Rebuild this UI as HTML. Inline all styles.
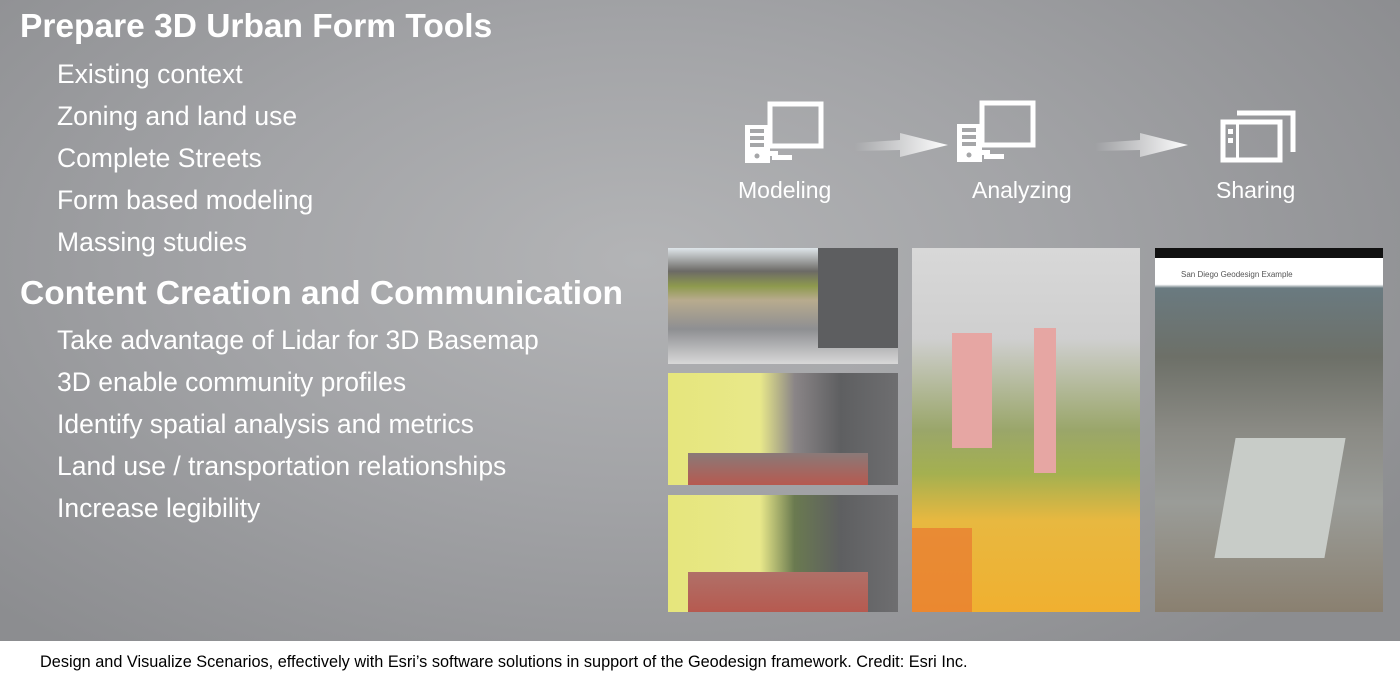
<!DOCTYPE html>
<html><head><meta charset="utf-8"><style>
*{margin:0;padding:0;box-sizing:border-box}
body{width:1400px;height:687px;overflow:hidden;font-family:"Liberation Sans",Arial,sans-serif;background:#fff;position:relative}
#bg{position:absolute;left:0;top:0;width:1400px;height:641px;background:radial-gradient(ellipse 900px 500px at 640px 260px,#b3b4b6 0%,#a3a4a7 45%,#8c8d90 100%)}
.t{position:absolute;color:#fff;white-space:nowrap}
.h{font-weight:bold;font-size:33.5px;left:20px}
.i{font-size:26.5px;left:57px}
.lab{font-size:23px}
.img{position:absolute;overflow:hidden}
#cap{position:absolute;left:0;top:641px;width:1400px;height:46px;background:#fff;font-size:16.3px;color:#000;padding:12px 0 0 40px}
</style></head><body>
<div id="bg"></div>
<div class="t h" style="top:8px">Prepare 3D Urban Form Tools</div>
<div class="t i" style="top:59px">Existing context</div>
<div class="t i" style="top:101px">Zoning and land use</div>
<div class="t i" style="top:143px">Complete Streets</div>
<div class="t i" style="top:185px">Form based modeling</div>
<div class="t i" style="top:227px">Massing studies</div>
<div class="t h" style="top:275px">Content Creation and Communication</div>
<div class="t i" style="top:325px">Take advantage of Lidar for 3D Basemap</div>
<div class="t i" style="top:367px">3D enable community profiles</div>
<div class="t i" style="top:409px">Identify spatial analysis and metrics</div>
<div class="t i" style="top:451px">Land use / transportation relationships</div>
<div class="t i" style="top:493px">Increase legibility</div>

<svg style="position:absolute;left:0;top:0" width="1400" height="641">
<defs><linearGradient id="ar" x1="0" x2="1"><stop offset="0" stop-color="#fff" stop-opacity="0"/><stop offset="1" stop-color="#fff"/></linearGradient></defs>
<g fill="none" stroke="#fff" stroke-width="5">
<rect x="770" y="104" width="51" height="42"/><rect x="982" y="103" width="51" height="42"/>
</g>
<g fill="#fff">
<rect x="745" y="125" width="25" height="38"/><rect x="770" y="151" width="8" height="5"/><rect x="772" y="155" width="20" height="5"/>
<rect x="957" y="124" width="25" height="38"/><rect x="982" y="150" width="8" height="5"/><rect x="984" y="154" width="20" height="5"/>
</g>
<g fill="#a5a6a8"><rect x="750" y="129" width="14" height="4"/><rect x="750" y="136" width="14" height="4"/><rect x="750" y="143" width="14" height="4"/><circle cx="757" cy="156" r="2.5"/>
<rect x="962" y="128" width="14" height="4"/><rect x="962" y="135" width="14" height="4"/><rect x="962" y="142" width="14" height="4"/><circle cx="969" cy="155" r="2.5"/></g>
<polygon points="855,143 900,140 900,133 948,145 900,157 900,150 855,151" fill="url(#ar)"/>
<polygon points="1095,143 1140,140 1140,133 1188,145 1140,157 1140,150 1095,151" fill="url(#ar)"/>
<g fill="none" stroke="#fff" stroke-width="5"><rect x="1223" y="122" width="57" height="38"/><polyline points="1237,113 1293,113 1293,152"/></g>
<rect x="1236" y="122" width="3" height="38" fill="#fff"/><rect x="1228" y="129" width="5" height="5" fill="#fff"/><rect x="1228" y="138" width="5" height="5" fill="#fff"/>
</svg>
<div class="t lab" style="left:738px;top:177px">Modeling</div>
<div class="t lab" style="left:972px;top:177px">Analyzing</div>
<div class="t lab" style="left:1216px;top:177px">Sharing</div>

<div class="img" style="left:668px;top:248px;width:230px;height:116px;background:linear-gradient(180deg,#dfe6ea 0%,#6c6a66 20%,#8e9a4e 33%,#b8ab8e 45%,#8e8f92 70%,#d8d8d8 100%)">
<div style="position:absolute;right:0;top:0;width:80px;height:100px;background:#5d5e60"></div></div>
<div class="img" style="left:668px;top:373px;width:230px;height:112px;background:linear-gradient(90deg,#e6e67c 0%,#e8e88a 40%,#8a8587 55%,#5e5f61 75%,#6e6e70 100%)">
<div style="position:absolute;left:20px;bottom:0;width:180px;height:32px;background:linear-gradient(#8a7a78,#b65a50)"></div></div>
<div class="img" style="left:668px;top:495px;width:230px;height:117px;background:linear-gradient(90deg,#e6e67c 0%,#e8e88a 40%,#6a7a50 55%,#5e5f61 75%,#6e6e70 100%)">
<div style="position:absolute;left:20px;bottom:0;width:180px;height:40px;background:linear-gradient(#b07068,#b65a50)"></div></div>
<div class="img" style="left:912px;top:248px;width:228px;height:364px;background:linear-gradient(180deg,#d8d8d8 0%,#cfcfcf 25%,#9aa66a 50%,#a4b050 62%,#e8b840 75%,#f0b030 100%)">
<div style="position:absolute;left:40px;top:85px;width:40px;height:115px;background:#e6a6a3"></div>
<div style="position:absolute;left:122px;top:80px;width:22px;height:145px;background:#e6a6a3"></div>
<div style="position:absolute;left:0;top:280px;width:60px;height:84px;background:#e87830;opacity:.7"></div></div>
<div class="img" style="left:1155px;top:248px;width:228px;height:364px;background:linear-gradient(180deg,#fff 0%,#fff 10%,#6a7a80 11%,#6d7068 30%,#8a8a84 50%,#9a9c98 70%,#8a8070 100%)">
<div style="position:absolute;left:0;top:0;width:228px;height:10px;background:#111"></div>
<div style="position:absolute;left:26px;top:22px;font-size:8px;color:#555">San Diego Geodesign Example</div>
<div style="position:absolute;left:70px;top:190px;width:110px;height:120px;background:#c8ccc8;transform:skewX(-10deg)"></div></div>

<div id="cap">Design and Visualize Scenarios, effectively with Esri’s software solutions in support of the Geodesign framework. Credit: Esri Inc.</div>
</body></html>
